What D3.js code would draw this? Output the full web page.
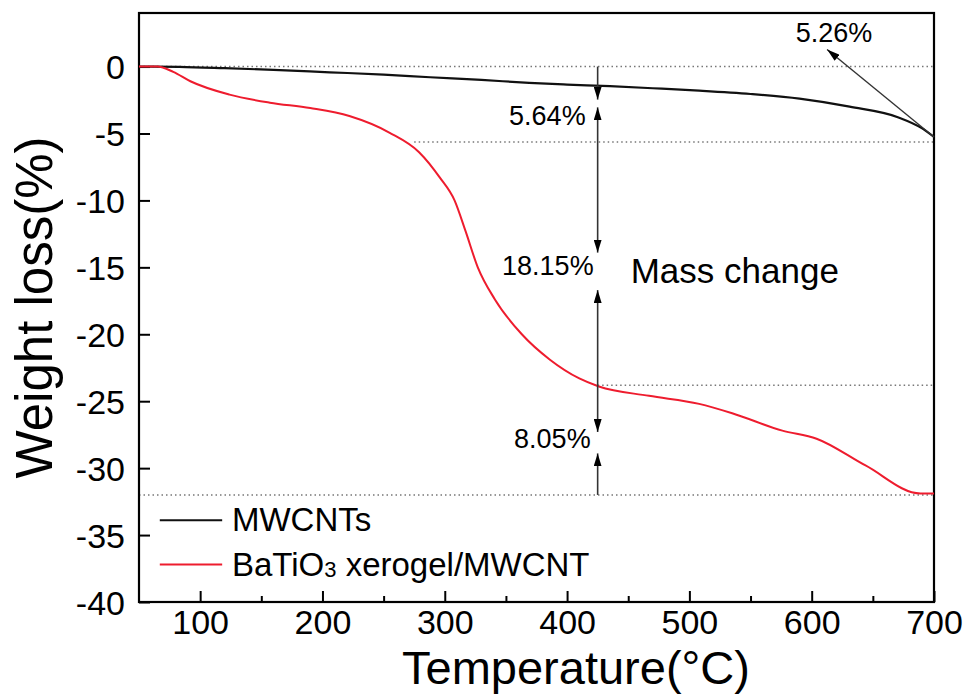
<!DOCTYPE html>
<html>
<head>
<meta charset="utf-8">
<script src="https://cdn.jsdelivr.net/npm/d3@7"></script>
<style>
  body { margin: 0; background: #fff; }
  text { font-family: "Liberation Sans", Arial, sans-serif; }
</style>
</head>
<body>
<svg id="mySvg"></svg>
<script>
// MWCNTs curve (temperature, weight loss %)
var mwTemp  = [50, 60, 83, 120, 160, 206, 250, 288, 330, 369, 400, 435, 470, 508, 550, 590, 631, 671, 690, 700];
var mwLoss  = [0, 0, -0.02, -0.12, -0.25, -0.43, -0.6, -0.8, -1.0, -1.22, -1.35, -1.47, -1.62, -1.8, -2.05, -2.4, -3.0, -3.8, -4.6, -5.26];
// BaTiO3 xerogel/MWCNT curve
var btTemp  = [50, 65, 78, 92, 124, 157, 190, 222, 255, 279, 296, 308, 317, 327, 341, 363, 386, 410, 426, 467, 508, 535, 576, 604, 644, 689, 700];
var btLoss  = [0, 0, -0.4, -1.1, -2.1, -2.7, -3.1, -3.7, -4.95, -6.4, -8.3, -10.0, -12.3, -15.0, -17.4, -20.0, -21.9, -23.3, -23.9, -24.6, -25.2, -25.9, -27.2, -27.8, -29.8, -31.9, -31.9];

var xTicks = [100, 200, 300, 400, 500, 600, 700];
var xMinor = [150, 250, 350, 450, 550, 650];
var yTicks = [0, -5, -10, -15, -20, -25, -30, -35, -40];

// reference levels (dotted lines): value, start temperature
var refLevels = [[0, 50], [-5.64, 275], [-23.8, 425], [-32, 50]];
// mass change arrows at T=425: [from, to, arrowAtStart, arrowAtEnd]
var arrowT = 425;
var arrowSegs = [[0, -2.47, false, true], [-3.05, -13.9, true, true], [-16.7, -27.3, true, true], [-28.9, -32, true, false]];
var arrowLabels = [["5.64%", -4.4, 12], ["18.15%", -15.6, 4], ["8.05%", -28.5, 7]];

var width = 967, height = 694;
var marginTop = 13, marginRight = 33, marginBottom = 92, marginLeft = 139;

var x = d3.scaleLinear().domain([50, 700]).range([marginLeft, width - marginRight]);
var y = d3.scaleLinear().domain([-40, 4]).range([height - marginBottom, marginTop]);

var svg = d3.select("#mySvg")
    .attr("width", width)
    .attr("height", height)
    .attr("viewBox", [0, 0, width, height]);

var defs = svg.append("defs");
defs.append("marker").attr("id", "av")
    .attr("viewBox", "0 0 10 10").attr("refX", 10).attr("refY", 5)
    .attr("markerWidth", 13).attr("markerHeight", 8).attr("markerUnits", "userSpaceOnUse")
    .attr("orient", "auto-start-reverse")
    .attr("preserveAspectRatio", "none")
  .append("path").attr("d", "M0,0L10,5L0,10Z").attr("fill", "#000");

// dotted reference lines
svg.append("g").selectAll("line").data(refLevels).join("line")
    .attr("x1", d => x(d[1])).attr("x2", x(700))
    .attr("y1", d => y(d[0])).attr("y2", d => y(d[0]))
    .attr("stroke", "#777").attr("stroke-width", 1.5)
    .attr("stroke-dasharray", "1.5,3");

// x axis
svg.append("g")
    .attr("transform", `translate(0,${y(-40)})`)
    .call(d3.axisBottom(x).tickValues(xTicks).tickSize(-11).tickPadding(8).tickSizeOuter(0))
    .call(g => g.select(".domain").remove())
    .call(g => g.selectAll(".tick line").attr("stroke-width", 2))
    .call(g => g.selectAll(".tick text").attr("font-size", 34).attr("font-family", "Liberation Sans, Arial, sans-serif").attr("fill", "#000"));
svg.append("g")
    .attr("transform", `translate(0,${y(-40)})`)
    .call(d3.axisBottom(x).tickValues(xMinor).tickSize(-6).tickFormat("").tickSizeOuter(0))
    .call(g => g.select(".domain").remove())
    .call(g => g.selectAll(".tick line").attr("stroke-width", 2));

// y axis
svg.append("g")
    .attr("transform", `translate(${x(50)},0)`)
    .call(d3.axisLeft(y).tickValues(yTicks).tickFormat(d => String(d)).tickSize(-11).tickPadding(14).tickSizeOuter(0))
    .call(g => g.select(".domain").remove())
    .call(g => g.selectAll(".tick line").attr("stroke-width", 2))
    .call(g => g.selectAll(".tick text").attr("font-size", 34).attr("font-family", "Liberation Sans, Arial, sans-serif").attr("fill", "#000").attr("dy", "0.36em"));

// frame
svg.append("rect")
    .attr("x", x(50)).attr("y", y(4))
    .attr("width", x(700) - x(50)).attr("height", y(-40) - y(4))
    .attr("fill", "none").attr("stroke", "#000").attr("stroke-width", 2.2);

// curves
var line = d3.line().curve(d3.curveMonotoneX).x(d => x(d[0])).y(d => y(d[1]));
svg.append("path")
    .attr("d", line(d3.zip(mwTemp, mwLoss)))
    .attr("fill", "none").attr("stroke", "#111").attr("stroke-width", 2.2);
svg.append("path")
    .attr("d", line(d3.zip(btTemp, btLoss)))
    .attr("fill", "none").attr("stroke", "#ee1c2e").attr("stroke-width", 2);

// mass change arrows
svg.append("g").selectAll("line").data(arrowSegs).join("line")
    .attr("x1", x(arrowT)).attr("x2", x(arrowT))
    .attr("y1", d => y(d[0])).attr("y2", d => y(d[1]))
    .attr("stroke", "#333").attr("stroke-width", 1.6)
    .attr("marker-start", d => d[2] ? "url(#av)" : null)
    .attr("marker-end", d => d[3] ? "url(#av)" : null);

svg.append("g").selectAll("text").data(arrowLabels).join("text")
    .attr("x", d => x(arrowT) - d[2]).attr("y", d => y(d[1]))
    .attr("text-anchor", "end").attr("font-size", 27).attr("fill", "#000")
    .text(d => d[0]);

svg.append("text")
    .attr("x", x(452)).attr("y", y(-16.2))
    .attr("font-size", 35).attr("fill", "#000")
    .text("Mass change");

// 5.26% arrow
svg.append("line")
    .attr("x1", x(700)).attr("y1", y(-5.26))
    .attr("x2", x(612.6)).attr("y2", y(1.27))
    .attr("stroke", "#333").attr("stroke-width", 1.4)
    .attr("marker-end", "url(#av)");
svg.append("text")
    .attr("x", x(587)).attr("y", y(1.8))
    .attr("font-size", 27).attr("fill", "#000")
    .text("5.26%");

// legend
var legend = [["MWCNTs", "#111", -33.9], ["BaTiO", "#ee1c2e", -37.2]];
var lg = svg.append("g");
lg.selectAll("line").data(legend).join("line")
    .attr("x1", x(67)).attr("x2", x(118))
    .attr("y1", d => y(d[2])).attr("y2", d => y(d[2]))
    .attr("stroke", d => d[1]).attr("stroke-width", 2);
var lt = lg.selectAll("text").data(legend).join("text")
    .attr("x", x(126)).attr("y", d => y(d[2]) + 11)
    .attr("font-size", 33).attr("fill", "#000")
    .text(d => d[0]);
lt.filter((d, i) => i === 1).each(function() {
  var t = d3.select(this);
  t.append("tspan").attr("font-size", 22).attr("dy", 1).text("3");
  t.append("tspan").attr("dy", -1).text(" xerogel/MWCNT");
});

// axis titles
svg.append("text")
    .attr("x", 576).attr("y", 684)
    .attr("text-anchor", "middle").attr("font-size", 47).attr("fill", "#000")
    .text("Temperature(\u00B0C)");
svg.append("text")
    .attr("transform", `translate(52,${(y(4) + y(-40)) / 2}) rotate(-90)`)
    .attr("text-anchor", "middle").attr("font-size", 51).attr("fill", "#000")
    .text("Weight loss(%)");
</script>
</body>
</html>
